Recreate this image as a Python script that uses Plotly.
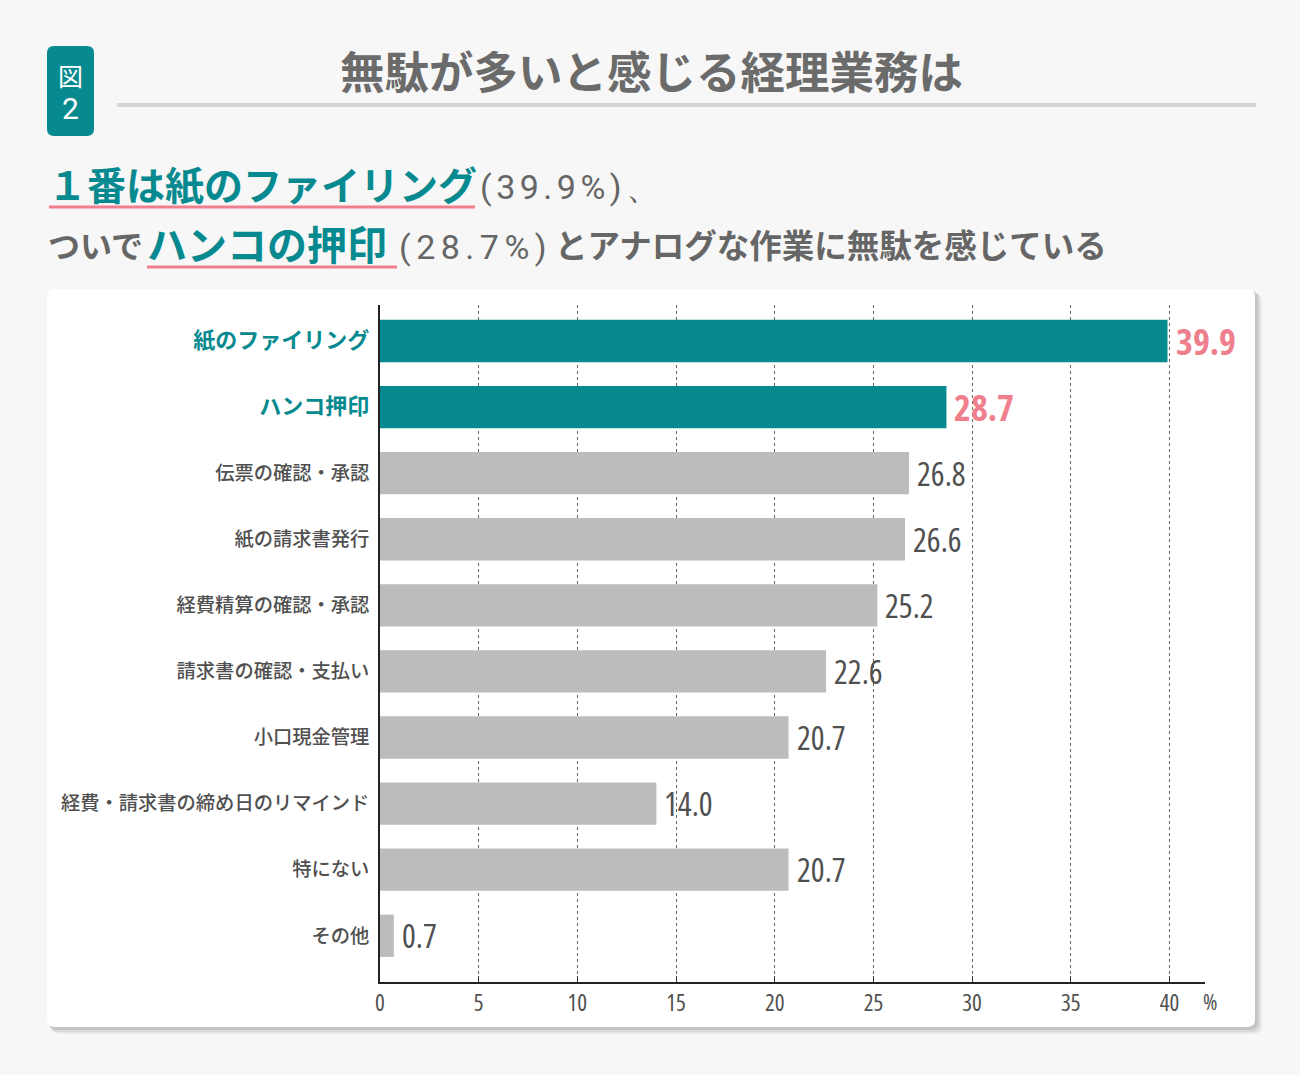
import plotly.graph_objects as go

# ---------------- data ----------------
categories = [
    "紙のファイリング",
    "ハンコ押印",
    "伝票の確認・承認",
    "紙の請求書発行",
    "経費精算の確認・承認",
    "請求書の確認・支払い",
    "小口現金管理",
    "経費・請求書の締め日のリマインド",
    "特にない",
    "その他",
]
values = [39.9, 28.7, 26.8, 26.6, 25.2, 22.6, 20.7, 14.0, 20.7, 0.7]
value_labels = ["39.9", "28.7", "26.8", "26.6", "25.2", "22.6", "20.7", "14.0", "20.7", "0.7"]
highlight = [True, True, False, False, False, False, False, False, False, False]
x_ticks = [0, 5, 10, 15, 20, 25, 30, 35, 40]
x_tick_labels = ["0", "5", "10", "15", "20", "25", "30", "35", "40"]

TITLE = "無駄が多いと感じる経理業務は"

# ---------------- style ----------------
TEAL = "#078a8f"
PINK = "#ef7f8d"
GREY_BAR = "#bdbbbc"
TXT = "#505050"
JP = "Noto Sans CJK JP"
NARROW = "Open Sans"
LATIN = "Roboto, Liberation Sans, sans-serif"
COND = "font-stretch:75%"
COND_V = "font-stretch:75%;font-weight:500"

W, H = 1300, 1075
L, R_EDGE, T, B_EDGE = 380, 1205, 305, 982
PW, PH = R_EDGE - L, B_EDGE - T


def xp(px):
    return (px - L) / PW


def yp(py):
    return (B_EDGE - py) / PH


def rounded_rect(x0, y0, x1, y1, r):
    X0, X1 = xp(x0), xp(x1)
    Y0, Y1 = yp(y0), yp(y1)
    rx, ry = r / PW, r / PH
    return (
        f"M {X0+rx},{Y0} L {X1-rx},{Y0} Q {X1},{Y0} {X1},{Y0-ry} "
        f"L {X1},{Y1+ry} Q {X1},{Y1} {X1-rx},{Y1} L {X0+rx},{Y1} "
        f"Q {X0},{Y1} {X0},{Y1+ry} L {X0},{Y0-ry} Q {X0},{Y0} {X0+rx},{Y0} Z"
    )


bar_colors = [TEAL if h else GREY_BAR for h in highlight]
tick_text = [
    f"<span style='color:{TEAL};font-size:22px'><b>{c}</b></span>" if h
    else f"<span style='color:{TXT};font-weight:500'>{c}</span>"
    for c, h in zip(categories, highlight)
]
x_tick_text = [f"<span style='{COND}'>{t}</span>" for t in x_tick_labels]

fig = go.Figure()
fig.add_trace(go.Bar(
    x=values,
    y=categories,
    orientation="h",
    marker=dict(color=bar_colors, line=dict(width=0)),
    width=0.64,
    hoverinfo="skip",
))

shapes = []
# card shadow
for off, a in [(7, 0.05), (5, 0.07), (3, 0.09)]:
    shapes.append(dict(type="path", xref="paper", yref="paper", layer="below",
                       path=rounded_rect(47 + off * 0.6, 289 + off * 0.6, 1255 + off, 1027 + off, 8),
                       fillcolor=f"rgba(0,0,0,{a})", line=dict(width=0)))
# card
shapes.append(dict(type="path", xref="paper", yref="paper", layer="below",
                   path=rounded_rect(47, 289, 1255, 1027, 8),
                   fillcolor="#ffffff", line=dict(width=0)))
# badge
shapes.append(dict(type="path", xref="paper", yref="paper", layer="below",
                   path=rounded_rect(47, 46, 94, 136, 7),
                   fillcolor=TEAL, line=dict(width=0)))
# title rule
shapes.append(dict(type="line", xref="paper", yref="paper", layer="below",
                   x0=xp(117), x1=xp(1256), y0=yp(105), y1=yp(105),
                   line=dict(color="#d6d6d6", width=4)))
# pink underlines
shapes.append(dict(type="line", xref="paper", yref="paper",
                   x0=xp(49), x1=xp(475), y0=yp(207), y1=yp(207),
                   line=dict(color=PINK, width=3)))
shapes.append(dict(type="line", xref="paper", yref="paper",
                   x0=xp(147), x1=xp(397), y0=yp(267), y1=yp(267),
                   line=dict(color=PINK, width=3)))

ann = []


def add_text(px, py, text, size, color, family=JP, anchor="left"):
    ann.append(dict(xref="paper", yref="paper", x=xp(px), y=yp(py), text=text,
                    showarrow=False, xanchor=anchor, yanchor="middle",
                    font=dict(family=family, size=size, color=color)))


# badge text
add_text(70.5, 75, "図", 25, "#ffffff", anchor="center")
add_text(70.5, 109, "2", 30, "#ffffff", family=LATIN, anchor="center")
# title
add_text(651, 70, f"<b>{TITLE}</b>", 44.5, "#6b6b6b", anchor="center")
# subtitle line 1
add_text(46, 183, "<b>１番は紙のファイリング</b>", 39, TEAL)
add_text(478, 187, "<span style='letter-spacing:4.5px'>(39.9%)、</span>", 34, "#666666", family=LATIN)
# subtitle line 2
add_text(46, 244, "<b>ついで</b>", 32, "#666666")
add_text(145, 243, "<b>ハンコの押印</b>", 40, TEAL)
add_text(397, 247, "<span style='letter-spacing:5.5px'>(28.7%)</span>", 34, "#666666", family=LATIN)
add_text(553, 244, "<b>とアナログな作業に無駄を感じている</b>", 32.5, "#666666")

# value labels
for cat, v, lab, h in zip(categories, values, value_labels, highlight):
    if h:
        txt = f"<b><span style='{COND}'>{lab}</span></b>"
    else:
        txt = f"<span style='{COND_V}'>{lab}</span>"
    ann.append(dict(xref="x", yref="y", x=v, y=cat, text=txt,
                    showarrow=False, xanchor="left", yanchor="middle", xshift=6,
                    font=dict(family=NARROW, size=36 if h else 32.5, color=PINK if h else TXT)))
# percent sign
add_text(1210, 1001, f"<span style='{COND}'>%</span>", 22, TXT, family=NARROW, anchor="center")

fig.update_layout(
    width=W, height=H,
    margin=dict(l=L, r=W - R_EDGE, t=T, b=H - B_EDGE, pad=0),
    paper_bgcolor="#f7f7f7",
    plot_bgcolor="rgba(0,0,0,0)",
    showlegend=False,
    shapes=shapes,
    annotations=ann,
)
fig.update_xaxes(
    range=[0, 41.8],
    tickvals=x_ticks, ticktext=x_tick_text,
    ticks="inside", ticklen=6, tickcolor="#333333", tickwidth=1,
    showgrid=True, gridcolor="#666666", gridwidth=1, griddash="dot",
    showline=True, linecolor="#222222", linewidth=1.5,
    zeroline=False,
    tickfont=dict(family=NARROW, size=23, color=TXT),
    ticklabelstandoff=0,
    fixedrange=True,
)
fig.update_yaxes(
    type="category",
    categoryorder="array", categoryarray=categories,
    tickvals=categories, ticktext=tick_text,
    range=[9.7, -0.545],
    showline=True, linecolor="#222222", linewidth=1.5,
    showgrid=False, zeroline=False, ticks="",
    tickfont=dict(family=JP, size=19.3, color=TXT),
    ticklabelstandoff=5,
    fixedrange=True,
)

fig.write_html(
    "out.html",
    config={"displayModeBar": False},
    post_script="document.body.style.margin='0';document.body.style.background='#f7f7f7';",
)
